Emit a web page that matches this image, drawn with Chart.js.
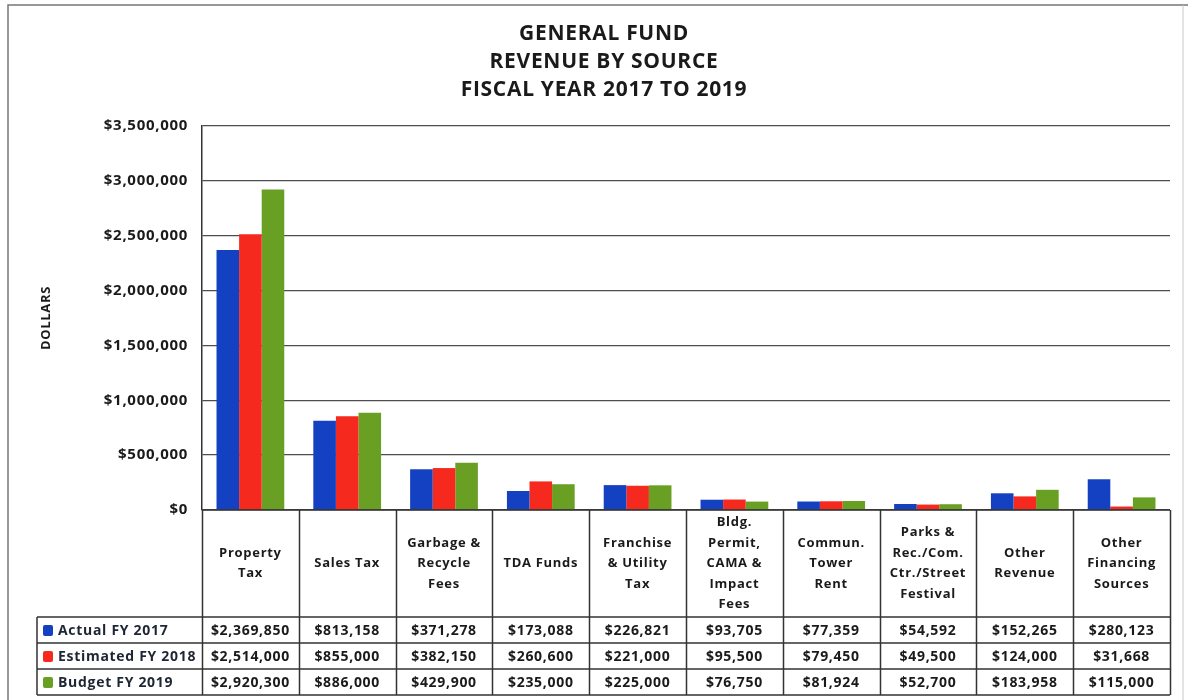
<!DOCTYPE html>
<html>
<head>
<meta charset="utf-8">
<title>General Fund Revenue by Source</title>
<script src="https://cdn.jsdelivr.net/npm/chart.js@4.4.1/dist/chart.umd.min.js"></script>
<style>
  html, body { margin: 0; padding: 0; background: #fff; }
  #wrap { width: 1188px; height: 700px; }
</style>
</head>
<body>
<div id="wrap"><canvas id="revenueChart" width="1188" height="700"></canvas></div>
<script>
// revenue sources (multi-line labels as printed in the table header)
const categories = [
  ['Property', 'Tax'],
  ['Sales Tax'],
  ['Garbage &', 'Recycle', 'Fees'],
  ['TDA Funds'],
  ['Franchise', '& Utility', 'Tax'],
  ['Bldg.', 'Permit,', 'CAMA &', 'Impact', 'Fees'],
  ['Commun.', 'Tower', 'Rent'],
  ['Parks &', 'Rec./Com.', 'Ctr./Street', 'Festival'],
  ['Other', 'Revenue'],
  ['Other', 'Financing', 'Sources']
];
const seriesNames = ['Actual FY 2017', 'Estimated FY 2018', 'Budget FY 2019'];
const actual2017 = [2369850, 813158, 371278, 173088, 226821, 93705, 77359, 54592, 152265, 280123];
const estimated2018 = [2514000, 855000, 382150, 260600, 221000, 95500, 79450, 49500, 124000, 31668];
const budget2019 = [2920300, 886000, 429900, 235000, 225000, 76750, 81924, 52700, 183958, 115000];
const seriesColors = ['#1440c2', '#f5291d', '#69a024'];
const titleLines = ['GENERAL FUND', 'REVENUE BY SOURCE', 'FISCAL YEAR 2017 TO 2019'];
const yMax = 3500000;
const yStep = 500000;

const FONT = '"Open Sans", "Liberation Sans", sans-serif';
const INK = '#1a1a1a';
const money = (v) => '$' + Number(v).toLocaleString('en-US');

// wider tracking for every piece of canvas text
const spacing = {
  id: 'spacing',
  beforeUpdate(chart) { chart.ctx.letterSpacing = '0.7px'; },
  beforeDraw(chart) { chart.ctx.letterSpacing = '0.7px'; }
};

// white page with the thin frame around the whole chart
const frame = {
  id: 'frame',
  beforeDraw(chart) {
    const ctx = chart.ctx;
    ctx.save();
    ctx.fillStyle = '#fff';
    ctx.fillRect(0, 0, chart.width, chart.height);
    ctx.strokeStyle = '#777';
    ctx.lineWidth = 1.5;
    ctx.beginPath();
    ctx.moveTo(8, chart.height);
    ctx.lineTo(8, 5);
    ctx.lineTo(chart.width, 5);
    ctx.stroke();
    ctx.strokeStyle = '#c8c8c8';
    ctx.lineWidth = 1;
    ctx.beginPath();
    ctx.moveTo(1183, 5);
    ctx.lineTo(1183, chart.height);
    ctx.stroke();
    ctx.restore();
  }
};

// data table under the bars: category header row + one row per series
const dataTable = {
  id: 'dataTable',
  afterDraw(chart) {
    const ctx = chart.ctx;
    const area = chart.chartArea;
    const xs = chart.scales.x;
    const n = categories.length;
    const step = (area.right - area.left) / n;
    const headTop = area.bottom;
    const rowTop = 617;
    const rowH = 26;
    const tableLeft = 37;
    const tableBottom = rowTop + rowH * seriesNames.length;
    const rows = [actual2017, estimated2018, budget2019];

    ctx.save();
    ctx.letterSpacing = '0.7px';
    ctx.strokeStyle = '#333';
    ctx.lineWidth = 1.5;

    // column separators
    ctx.beginPath();
    for (let i = 0; i <= n; i++) {
      const x = Math.round(area.left + i * step) + 0.5;
      ctx.moveTo(x, headTop);
      ctx.lineTo(x, tableBottom);
    }
    ctx.moveTo(tableLeft, rowTop);
    ctx.lineTo(tableLeft, tableBottom);
    // row separators
    ctx.moveTo(area.left, headTop);
    ctx.lineTo(area.right, headTop);
    for (let r = 0; r <= rows.length; r++) {
      const y = rowTop + r * rowH;
      ctx.moveTo(tableLeft, y);
      ctx.lineTo(area.right, y);
    }
    ctx.stroke();

    // category names
    ctx.fillStyle = INK;
    ctx.textAlign = 'center';
    ctx.textBaseline = 'middle';
    ctx.font = 'bold 13px ' + FONT;
    const lineH = 20.5;
    const headMid = (headTop + rowTop) / 2;
    categories.forEach((lines, i) => {
      const cx = xs.getPixelForValue(i);
      const y0 = headMid - (lines.length - 1) * lineH / 2;
      lines.forEach((t, k) => ctx.fillText(t, cx, y0 + k * lineH));
    });

    // values
    ctx.font = 'bold 14px ' + FONT;
    rows.forEach((vals, r) => {
      const cy = rowTop + r * rowH + rowH / 2 + 1;
      vals.forEach((v, i) => ctx.fillText(money(v), xs.getPixelForValue(i), cy));
    });

    // series keys
    ctx.textAlign = 'left';
    seriesNames.forEach((name, r) => {
      const cy = rowTop + r * rowH + rowH / 2 + 1;
      ctx.fillStyle = seriesColors[r];
      ctx.beginPath();
      ctx.roundRect(43, cy - 6, 10, 11, 2);
      ctx.fill();
      ctx.fillStyle = '#1e2533';
      ctx.fillText(name, 58, cy);
    });
    ctx.restore();
  }
};

new Chart(document.getElementById('revenueChart'), {
  type: 'bar',
  data: {
    labels: categories.map((c) => c.join(' ')),
    datasets: [
      { label: seriesNames[0], data: actual2017, backgroundColor: seriesColors[0] },
      { label: seriesNames[1], data: estimated2018, backgroundColor: seriesColors[1] },
      { label: seriesNames[2], data: budget2019, backgroundColor: seriesColors[2] }
    ]
  },
  options: {
    responsive: false,
    animation: false,
    devicePixelRatio: 1,
    layout: { padding: { left: 38, right: 18, top: 0, bottom: 0 } },
    datasets: {
      bar: { categoryPercentage: 0.7, barPercentage: 1.0, borderWidth: 0 }
    },
    scales: {
      x: {
        grid: { display: false, drawTicks: false },
        border: { display: false },
        ticks: { display: false },
        afterFit: (s) => { s.height = 190; }
      },
      y: {
        min: 0,
        max: yMax,
        ticks: {
          stepSize: yStep,
          padding: 14,
          color: INK,
          font: { family: FONT, size: 15, weight: 'bold' },
          callback: (v) => money(v)
        },
        grid: { color: '#4d4d4d', lineWidth: 1.3, drawTicks: false },
        border: { color: '#333', width: 1.5 },
        title: {
          display: true,
          text: 'DOLLARS',
          color: INK,
          font: { family: FONT, size: 13, weight: 'bold' },
          padding: { top: 0, bottom: 0 }
        },
        afterFit: (s) => { s.width = 164; }
      }
    },
    plugins: {
      legend: { display: false },
      tooltip: { enabled: false },
      title: {
        display: true,
        text: titleLines,
        color: INK,
        font: { family: FONT, size: 21, weight: 'bold', lineHeight: 1.333 },
        padding: { top: 20, bottom: 22 }
      }
    }
  },
  plugins: [spacing, frame, dataTable]
});
</script>
</body>
</html>
